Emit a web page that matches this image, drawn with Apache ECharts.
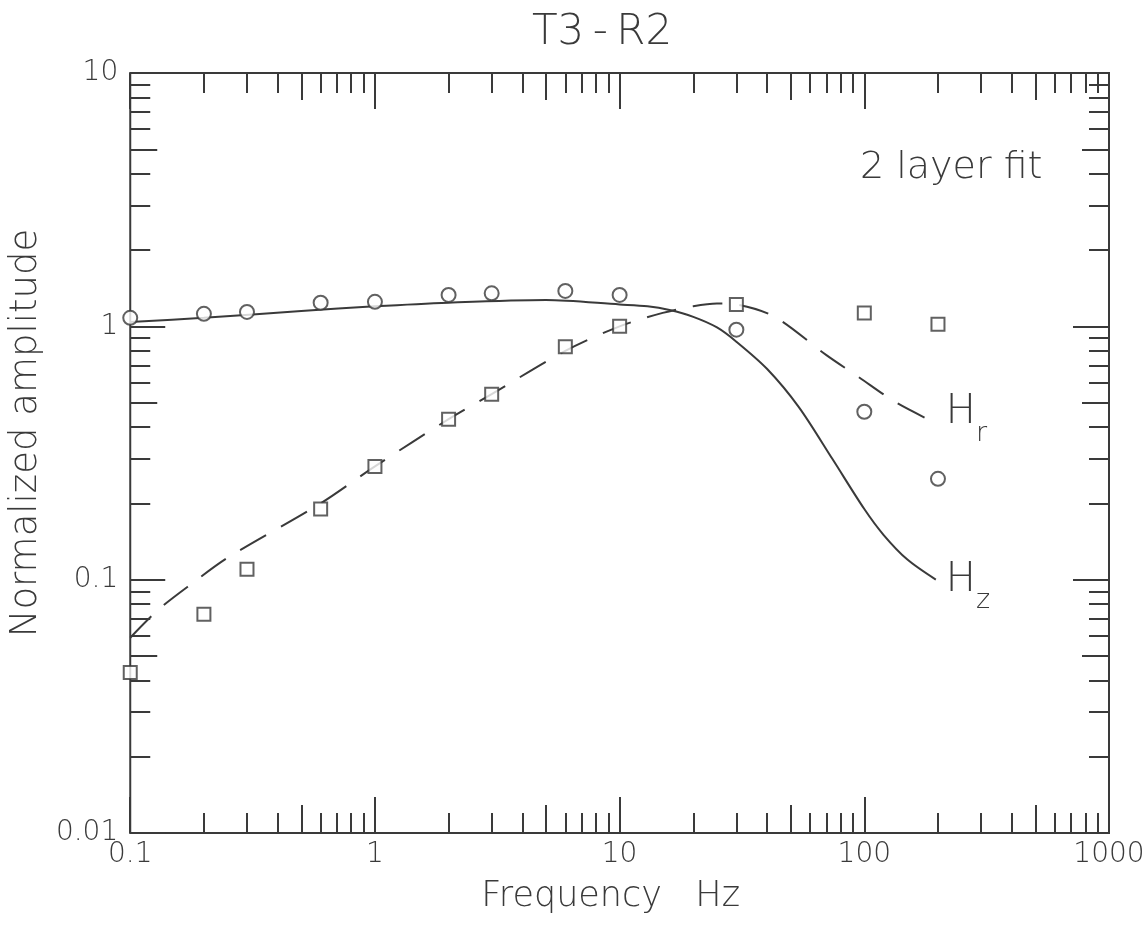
<!DOCTYPE html>
<html><head><meta charset="utf-8">
<script src="https://cdn.jsdelivr.net/npm/echarts@6/dist/echarts.min.js"></script>
<style>html,body{margin:0;padding:0;background:#fff}#c{width:1148px;height:925px}</style>
</head><body><div id="c"></div>
<script>
// ---- data ----
const freqs = [0.1, 0.2, 0.3, 0.6, 1, 2, 3, 6, 10, 30, 100, 200];
const hzObserved = [1.08, 1.12, 1.14, 1.24, 1.25, 1.33, 1.35, 1.38, 1.33, 0.97, 0.46, 0.25]; // circles
const hrObserved = [0.043, 0.073, 0.11, 0.19, 0.28, 0.43, 0.54, 0.83, 1.0, 1.22, 1.13, 1.02]; // squares
const hzFitFreq = [0.1, 0.2, 0.5, 1, 2, 5, 10, 13, 16, 20, 25, 30, 40, 54, 74, 100, 120, 150, 196];
const hzFit =     [1.04, 1.08, 1.15, 1.2, 1.24, 1.27, 1.22, 1.2, 1.16, 1.09, 0.99, 0.87, 0.68, 0.48, 0.30, 0.19, 0.15, 0.12, 0.10];
const hrFitFreq = [0.1, 0.13, 0.18, 0.25, 0.6, 1, 2, 3, 6, 10, 15, 20, 25, 30, 43, 70, 95, 135, 196];
const hrFit =     [0.059, 0.076, 0.097, 0.122, 0.2, 0.28, 0.43, 0.54, 0.8, 1.0, 1.13, 1.2, 1.23, 1.22, 1.09, 0.77, 0.63, 0.50, 0.415];
const xTickLabels = ['0.1', '1', '10', '100', '1000'];
const yTickLabels = ['0.01', '0.1', '1', '10'];
const chartTitle = 'T3\u2009-\u2009R2';
const noteText = '2 layer fit';

// ---- styling ----
const INK = '#3a3a3a';
const FONT = 'DejaVu Sans';
const FW = 200;
const xDecades = [-1, 0, 1, 2];
const yDecades = [-2, -1, 0];
function minorPos(decs, mults) {
  const out = [];
  decs.forEach(d => mults.forEach(m => out.push(d + Math.log10(m))));
  return out;
}
const minorMults = [2, 3, 4, 6, 7, 8, 9];
const tickStyle = { color: INK, width: 2 };

function decoX(pos, vals, len) {
  return { type: 'value', gridIndex: 0, position: pos, min: -1, max: 3,
    axisLine: { show: false, onZero: false }, axisLabel: { show: false }, splitLine: { show: false },
    axisTick: { show: true, inside: true, length: len, lineStyle: tickStyle, customValues: vals } };
}
function decoY(pos, vals, len) {
  return { type: 'value', gridIndex: 0, position: pos, min: -2, max: 1,
    axisLine: { show: false, onZero: false }, axisLabel: { show: false }, splitLine: { show: false },
    axisTick: { show: true, inside: true, length: len, lineStyle: tickStyle, customValues: vals } };
}

const sub = (h, s) => `{h|${h}}{s|${s}}`;
const richHS = {
  h: { fontSize: 40, fontFamily: FONT, fontWeight: FW, color: INK, verticalAlign: 'bottom', padding: [0, 0, 14, 0] },
  s: { fontSize: 27, fontFamily: FONT, fontWeight: FW, color: INK, verticalAlign: 'bottom' }
};

const chart = echarts.init(document.getElementById('c'), null, { renderer: 'canvas' });
chart.setOption({
  backgroundColor: '#fff',
  animation: false,
  grid: { left: 109, right: 39, top: 73, bottom: 92, show: true, borderColor: INK, borderWidth: 2, backgroundColor: 'transparent' },
  graphic: [
    { type: 'text', x: 602, y: 12, style: { text: chartTitle, align: 'center', verticalAlign: 'top', fontSize: 42, fontFamily: FONT, fontWeight: FW, fill: INK } },
    { type: 'text', x: 860, y: 149, style: { text: noteText, verticalAlign: 'top', fontSize: 38, fontFamily: FONT, fontWeight: FW, fill: INK } }
  ],
  xAxis: [
    { type: 'log', logBase: 10, min: 0.1, max: 1000, gridIndex: 0, position: 'bottom',
      name: 'Frequency   Hz', nameLocation: 'middle', nameGap: 46,
      nameTextStyle: { fontSize: 35, fontFamily: FONT, fontWeight: FW, color: INK, padding: [0, 18, 0, 0] },
      axisLine: { show: false, onZero: false }, splitLine: { show: false },
      axisTick: { inside: true, length: 36, lineStyle: tickStyle },
      axisLabel: { margin: 8, fontSize: 28, fontFamily: FONT, fontWeight: FW, color: INK,
        formatter: (v, i) => xTickLabels[i] } },
    decoX('bottom', minorPos(xDecades, minorMults), 20),
    decoX('bottom', minorPos(xDecades, [5]), 28),
    decoX('top', minorPos(xDecades, minorMults), 20),
    decoX('top', minorPos(xDecades, [5]), 27),
    decoX('top', [-1, 0, 1, 2, 3], 36)
  ],
  yAxis: [
    { type: 'log', logBase: 10, min: 0.01, max: 10, gridIndex: 0, position: 'left',
      name: 'Normalized amplitude', nameLocation: 'middle', nameGap: 60,
      nameTextStyle: { fontSize: 37, fontFamily: FONT, fontWeight: FW, color: INK, padding: [0, 0, 0, 40] },
      axisLine: { show: false, onZero: false }, splitLine: { show: false },
      axisTick: { inside: true, length: 35, lineStyle: tickStyle },
      axisLabel: { margin: 12, fontSize: 28, fontFamily: FONT, fontWeight: FW, color: INK,
        formatter: (v, i) => yTickLabels[i] } },
    decoY('left', minorPos(yDecades, minorMults), 20),
    decoY('left', minorPos(yDecades, [5]), 27),
    decoY('right', minorPos(yDecades, minorMults), 20),
    decoY('right', minorPos(yDecades, [5]), 27),
    decoY('right', [-2, -1, 0, 1], 36)
  ],
  series: [
    { name: 'Hz fit', type: 'line', xAxisIndex: 0, yAxisIndex: 0, smooth: 0.3, symbol: 'none',
      data: hzFitFreq.map((f, i) => [f, hzFit[i]]),
      lineStyle: { color: INK, width: 2 },
      endLabel: { show: true, formatter: sub('H', 'z'), rich: richHS, distance: 10, offset: [0, 8] } },
    { name: 'Hr fit', type: 'line', xAxisIndex: 0, yAxisIndex: 0, smooth: 0.3, symbol: 'none',
      data: hrFitFreq.map((f, i) => [f, hrFit[i]]),
      lineStyle: { color: INK, width: 2, type: [30, 17] },
      endLabel: { show: true, formatter: sub('H', 'r'), rich: richHS, distance: 10, offset: [0, -3] } },
    { name: 'Hz data', type: 'scatter', xAxisIndex: 0, yAxisIndex: 0, symbol: 'circle', symbolSize: 14,
      data: freqs.map((f, i) => [f, hzObserved[i]]),
      itemStyle: { color: '#fff', borderColor: INK, borderWidth: 2 }, z: 5 },
    { name: 'Hr data', type: 'scatter', xAxisIndex: 0, yAxisIndex: 0, symbol: 'rect', symbolSize: 13,
      data: freqs.map((f, i) => [f, hrObserved[i]]),
      itemStyle: { color: '#fff', borderColor: INK, borderWidth: 2 }, z: 5 }
  ]
});
</script></body></html>
